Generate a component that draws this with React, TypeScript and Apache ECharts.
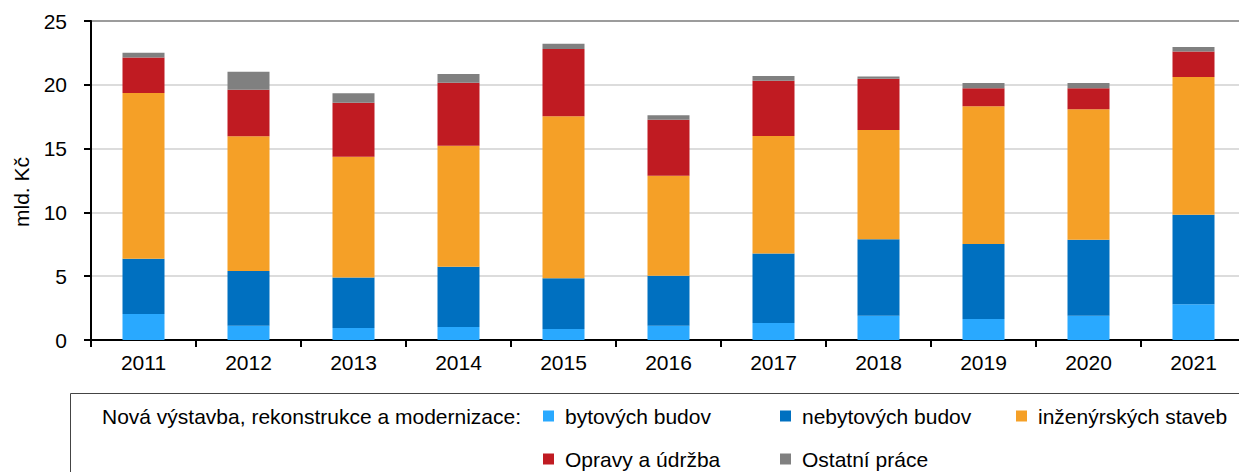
import React, { useEffect, useRef } from "react";
import * as echarts from "echarts";

const years = ["2011", "2012", "2013", "2014", "2015", "2016", "2017", "2018", "2019", "2020", "2021"];
const bytovych = [2.04, 1.12, 0.94, 1.02, 0.86, 1.12, 1.33, 1.91, 1.65, 1.91, 2.8];
const nebytovych = [4.33, 4.29, 3.95, 4.73, 3.97, 3.92, 5.44, 5.98, 5.87, 5.95, 7.02];
const inzenyrskych = [12.99, 10.55, 9.48, 9.48, 12.7, 7.84, 9.22, 8.57, 10.79, 10.22, 10.79];
const opravy = [2.77, 3.66, 4.23, 4.94, 5.28, 4.39, 4.33, 4.02, 1.41, 1.64, 1.99];
const ostatni = [0.39, 1.41, 0.73, 0.68, 0.41, 0.34, 0.37, 0.18, 0.42, 0.42, 0.36];

const seriesNames = ["bytových budov", "nebytových budov", "inženýrských staveb", "Opravy a údržba", "Ostatní práce"];
const seriesData = [bytovych, nebytovych, inzenyrskych, opravy, ostatni];
const colors = ["#29A9FF", "#0070C0", "#F5A027", "#C01B22", "#808080"];
const legendPrefix = "Nová výstavba, rekonstrukce a modernizace:";
const yAxisTitle = "mld. Kč";

const FONT = "'Liberation Sans', Arial, sans-serif";
const CHART_W = 1260;

export default function App() {
  const ref = useRef<HTMLDivElement>(null);
  useEffect(() => {
    document.documentElement.style.overflow = "hidden";
    document.body.style.overflow = "hidden";
    if (!ref.current) return;
    const chart = echarts.init(ref.current, undefined, { renderer: "svg" });
    const legendPos = [
      { left: 543, top: 405 },
      { left: 780, top: 405 },
      { left: 1016, top: 405 },
      { left: 543, top: 448 },
      { left: 780, top: 448 },
    ];
    chart.setOption({
      animation: false,
      textStyle: { fontFamily: FONT },
      grid: {
        left: 91,
        top: 21,
        right: CHART_W - 1246,
        bottom: 132,
        show: true,
        borderColor: "#000",
        borderWidth: 2,
        containLabel: false,
      },
      legend: seriesNames.map((n, i) => ({
        data: [n],
        left: legendPos[i].left,
        top: legendPos[i].top,
        padding: 0,
        icon: "rect",
        itemWidth: 11,
        itemHeight: 11,
        selectedMode: false,
        textStyle: { fontSize: 21, color: "#000", fontFamily: FONT, padding: [0, 0, 0, 6], lineHeight: 22 },
      })),
      xAxis: {
        type: "category",
        data: years,
        axisLine: { lineStyle: { color: "#000", width: 2 } },
        axisTick: { show: true, length: 7, lineStyle: { color: "#000", width: 2 } },
        axisLabel: { fontSize: 21, color: "#000", margin: 12, fontFamily: FONT },
      },
      yAxis: {
        type: "value",
        min: 0,
        max: 25,
        interval: 5,
        axisLine: { show: true, lineStyle: { color: "#000", width: 2 } },
        axisTick: { show: true, length: 7, lineStyle: { color: "#000", width: 2 } },
        axisLabel: { fontSize: 21, color: "#000", margin: 24, fontFamily: FONT },
        splitLine: { lineStyle: { color: "#d0d0d0", width: 1.5 } },
      },
      graphic: [
        {
          type: "rect",
          shape: { x: 70.5, y: 393.5, width: 1220, height: 120 },
          style: { fill: "none", stroke: "#444", lineWidth: 1 },
          silent: true,
        },
        {
          type: "text",
          x: 102,
          y: 416,
          style: { text: legendPrefix, fontSize: 21, fontFamily: FONT, fill: "#000", verticalAlign: "middle" },
        },
        {
          type: "text",
          x: 21,
          y: 192,
          rotation: Math.PI / 2,
          style: { text: yAxisTitle, fontSize: 21, fontFamily: FONT, fill: "#000", align: "center", verticalAlign: "middle" },
        },
      ],
      series: seriesNames.map((n, i) => ({
        name: n,
        type: "bar",
        stack: "total",
        barWidth: 42,
        data: seriesData[i],
        itemStyle: { color: colors[i] },
      })),
    });
    return () => chart.dispose();
  }, []);
  return <div ref={ref} style={{ position: "absolute", left: 0, top: 0, width: CHART_W, height: 472 }} />;
}
